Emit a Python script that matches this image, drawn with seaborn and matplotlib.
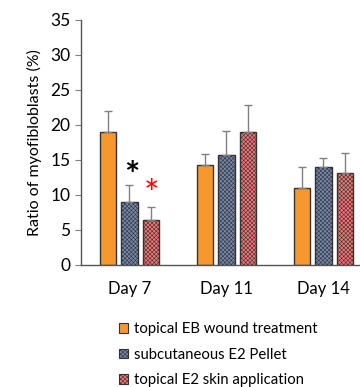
import pandas as pd
import matplotlib
matplotlib.use('Agg')
import matplotlib.pyplot as plt
import seaborn as sns

# datos
dias = ['Day 7', 'Day 11', 'Day 14']
grupos = ['topical EB wound treatment', 'subcutaneous E2 Pellet', 'topical E2 skin application']
eb_topico = [18.9, 14.3, 11.0]
e2_pellet = [9.0, 15.7, 13.9]
e2_topico = [6.4, 19.0, 13.1]
err_eb = [3.0, 1.5, 3.0]
err_pellet = [2.4, 3.4, 1.3]
err_topico = [1.9, 3.8, 2.8]

colores = ['#F7982E', '#7587AE', '#F77272']
tramas = ['', 'xxxxxxxx', 'xxxxxxxx']

df = pd.DataFrame({
    'dia': dias * 3,
    'grupo': [grupos[0]] * 3 + [grupos[1]] * 3 + [grupos[2]] * 3,
    'ratio': eb_topico + e2_pellet + e2_topico,
})
errores = [err_eb, err_pellet, err_topico]

sns.set_style('white')
plt.rcParams['font.family'] = ['Lato', 'DejaVu Sans']
plt.rcParams['hatch.color'] = '#E8E8F0'
plt.rcParams['hatch.linewidth'] = 0.4
plt.rcParams['text.color'] = 'black'
plt.rcParams['axes.labelcolor'] = 'black'
plt.rcParams['xtick.color'] = 'black'
plt.rcParams['ytick.color'] = 'black'

fig = plt.figure(figsize=(3.6, 3.87), dpi=100)
ax = fig.add_axes([0.225, 0.3165, 0.808, 0.632])

sns.barplot(data=df, x='dia', y='ratio', hue='grupo', palette=colores,
            saturation=1, width=0.67, gap=0.24, edgecolor='#333333', linewidth=1.0,
            errorbar=None, legend=False, ax=ax)

contenedores = list(ax.containers)
for i, cont in enumerate(contenedores):
    for j, barra in enumerate(cont):
        barra.set_hatch(tramas[i])
        xc = barra.get_x() + barra.get_width() / 2
        ax.errorbar(xc, barra.get_height(), yerr=[[0], [errores[i][j]]],
                    fmt='none', ecolor='#808080', elinewidth=1.0,
                    capsize=3, capthick=1.0, zorder=1)

# asteriscos de significancia
ax.text(0.02, 12.6, '*', ha='center', va='center', fontsize=26,
        fontweight='bold', color='black')
ax.text(0.23, 9.9, '*', ha='center', va='center', fontsize=26,
        color='red')

ax.set_xlim(-0.5, 2.5)
ax.set_ylim(0, 35)
ax.set_yticks(range(0, 36, 5))
ax.set_xlabel('')
ax.set_ylabel('Ratio of myofibloblasts (%)', fontsize=11.5, labelpad=6)
ax.tick_params(axis='y', labelsize=12.5, length=4, color='#808080', left=True)
ax.tick_params(axis='x', labelsize=12, length=0, pad=12)
sns.despine(ax=ax)
for s in ['left', 'bottom']:
    ax.spines[s].set_color('#555555')
    ax.spines[s].set_linewidth(1.0)

handles = [plt.Rectangle((0, 0), 1, 1, facecolor=colores[k], edgecolor='#333333',
                         hatch=tramas[k], linewidth=0.8) for k in range(3)]
fig.legend(handles, grupos, loc='upper left', bbox_to_anchor=(0.315, 0.183),
           frameon=False, fontsize=10.7, handlelength=0.6, handleheight=0.6,
           handletextpad=0.4, labelspacing=0.78, borderaxespad=0)

fig.savefig('out.png', dpi=100)
